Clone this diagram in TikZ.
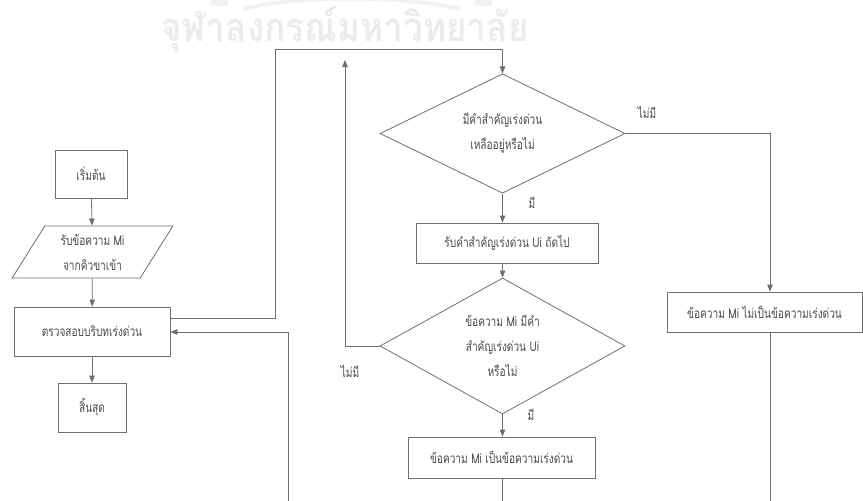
\documentclass[tikz,border=0pt]{standalone}
\usepackage{fontspec}
\setmainfont{Liberation Sans}
\newfontfamily\thai[Script=Thai,FakeStretch=0.75]{Loma}
\newfontfamily\thaimark[Script=Thai,FakeStretch=0.88]{Loma}
\usetikzlibrary{shapes.geometric,arrows.meta}
\definecolor{linegray}{HTML}{6E6E6E}
\definecolor{textgray}{HTML}{4A4A4A}
\definecolor{markgray}{HTML}{ECECEC}
\definecolor{crestgray}{HTML}{F2F2F2}
\begin{document}
\begin{tikzpicture}[x=1pt,y=-1pt,
  flow/.style={draw=linegray, line width=0.8pt},
  arr/.style={flow, -{Triangle[length=7pt,width=5.5pt]}},
  procbox/.style={draw=linegray, line width=0.8pt, rectangle, inner sep=0pt,
    text=textgray, font=\thai\fontsize{13.5}{25}\selectfont, align=center},
  decision/.style={procbox, diamond},
  iobox/.style={procbox, trapezium, trapezium left angle=59,
    trapezium right angle=121, trapezium stretches=true},
  lbl/.style={text=textgray, font=\thai\fontsize{13.5}{14}\selectfont, inner sep=0pt}]
\useasboundingbox (0,0) rectangle (863,501);

% faint university crest and name behind the chart
\draw[crestgray, line width=4pt] (243,9) .. controls (300,-5) and (400,-5) .. (460,9);
\fill[crestgray] (210,0) rectangle (228,6);
\fill[crestgray] (474,0) rectangle (492,6);
\node[text=markgray, font=\thaimark\bfseries\fontsize{40}{42}\selectfont] (mark) at (345,29) {จุฬาลงกรณ์มหาวิทยาลัย};

% left column
\node[procbox, minimum width=72pt, minimum height=48pt] (start) at (91,174) {เริ่มต้น};
\node[iobox, minimum width=161pt, minimum height=52pt] (input) at (92.5,252) {รับข้อความ Mi\\จากคิวขาเข้า};
\node[procbox, minimum width=156pt, minimum height=49pt] (check) at (92,331.5) {ตรวจสอบบริบทเร่งด่วน};
\node[procbox, minimum width=68pt, minimum height=49pt] (stop) at (92,407.5) {สิ้นสุด};

% keyword loop
\node[decision, minimum width=245pt, minimum height=111pt] (more) at (502.5,133.5) {มีคำสำคัญเร่งด่วน\\เหลืออยู่หรือไม่};
\node[procbox, minimum width=182pt, minimum height=40pt] (next) at (507,243) {รับคำสำคัญเร่งด่วน Ui ถัดไป};
\node[decision, minimum width=245pt, minimum height=112pt] (has) at (502.5,346) {ข้อความ Mi มีคำ\\สำคัญเร่งด่วน Ui\\หรือไม่};
\node[procbox, minimum width=187pt, minimum height=41pt] (urgent) at (501.5,457.5) {ข้อความ Mi เป็นข้อความเร่งด่วน};
\node[procbox, minimum width=195pt, minimum height=40pt] (normal) at (764.5,312) {ข้อความ Mi ไม่เป็นข้อความเร่งด่วน};

% branch labels
\node[lbl] (noA) at (647,112) {ไม่มี};
\node[lbl] (yesA) at (532,203) {มี};
\node[lbl] (noB) at (350,371) {ไม่มี};
\node[lbl] (yesB) at (531,415) {มี};

% free ends of the loop lines
\coordinate (backtip) at (345,60);
\coordinate (urgentend) at (502,501);
\coordinate (normalend) at (770,501);
\coordinate (returnstart) at (288,501);

% connectors
\draw[arr] (start) -- (input);
\draw[arr] (input) -- (check);
\draw[arr] (check) -- (stop);
\draw[arr] ([yshift=13.5pt]check.east) -- (275,318) -- (275,49) -- (502.5,49) -- (more.north);
\draw[arr] (more) -- (next.north -| more.south);
\draw[arr] (next.south -| has.north) -- (has.north);
\draw[arr] (more.east) -- (770,133.5) -- (normal.north -| 770,0);
\draw[arr] (has) -- (urgent.north -| has.south);
\draw[arr] (has.west) -- (345,346) -- (backtip);
\draw[flow] (urgent.south -| urgentend) -- (urgentend);
\draw[flow] (normal.south -| normalend) -- (normalend);
\draw[arr] (returnstart) -- (288,332) -- (check.east |- 0,332);
\end{tikzpicture}
\end{document}
